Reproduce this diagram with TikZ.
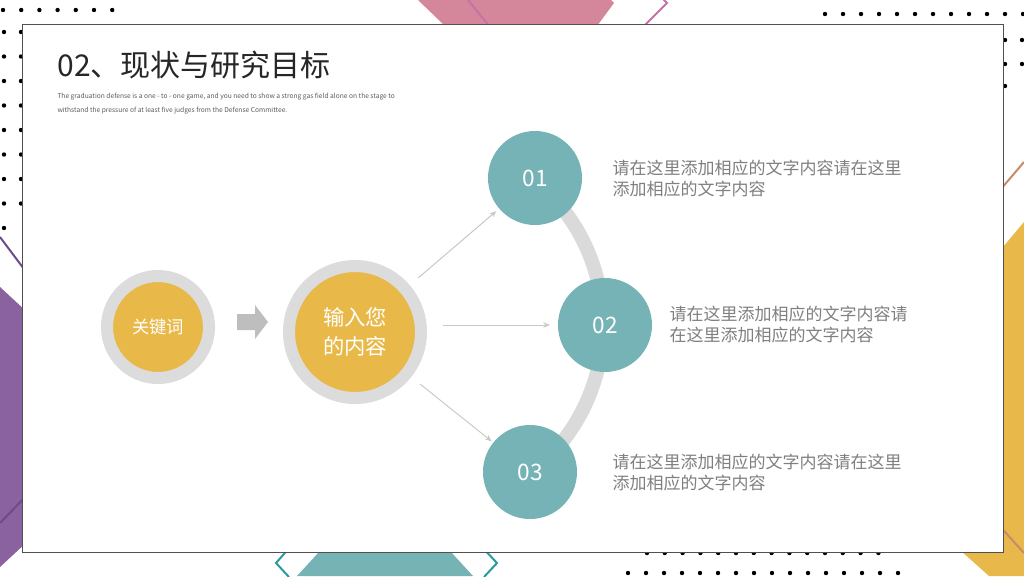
\documentclass[tikz,border=0pt]{standalone}
\usepackage{fontspec}
\setmainfont{Noto Sans CJK SC}
\usetikzlibrary{arrows.meta}
\definecolor{kwyellow}{RGB}{232,185,73}
\definecolor{ringgrey}{RGB}{220,220,220}
\definecolor{numteal}{RGB}{118,179,182}
\definecolor{arcgrey}{RGB}{218,218,218}
\definecolor{linkgrey}{RGB}{200,200,200}
\definecolor{arrowgrey}{RGB}{190,190,190}
\definecolor{descgrey}{RGB}{127,127,127}
\definecolor{subgrey}{RGB}{90,90,90}
\definecolor{titlegrey}{RGB}{38,38,38}
\definecolor{cardborder}{RGB}{80,80,80}
\definecolor{pinkfill}{RGB}{212,135,154}
\definecolor{pinkline}{RGB}{200,112,168}
\definecolor{purplefill}{RGB}{138,98,160}
\definecolor{purpleline}{RGB}{110,74,140}
\definecolor{sideyellow}{RGB}{232,185,74}
\definecolor{brownline}{RGB}{201,138,106}
\definecolor{tealfill}{RGB}{118,179,181}
\definecolor{tealline}{RGB}{42,154,156}

\tikzset{every picture/.style={line width=0.75pt}}

\begin{document}
\begin{tikzpicture}[x=0.75pt,y=0.75pt,yscale=-1,xscale=1,
	bgdot/.style={fill=black},
	ring/.style={circle, draw=ringgrey, fill=kwyellow, line width=9pt, inner sep=0pt, outer sep=0pt, text=white},
	numcirc/.style={circle, fill=numteal, minimum size=70.5pt, inner sep=0pt, outer sep=0pt, text=white, font=\fontsize{17}{18}\selectfont},
	link/.style={draw=linkgrey, line width=0.75pt, -{Stealth[length=5pt,width=4pt]}},
	desc/.style={anchor=west, align=left, text=descgrey, inner sep=0pt, font=\fontsize{12.75}{15.75}\selectfont}
	]
	\useasboundingbox (0,0) rectangle (1024,576);

	%Shape: top pink
	\fill [pinkfill] (418,0) -- (445,26) -- (597,26) -- (614,3) -- (611,0) -- cycle ;
	\draw [pinkline, line width=1.5pt] (468,0) -- (490,27) ;
	\draw [pinkline, line width=1.5pt] (663,-1) -- (667,3) -- (643,27) ;
	%Shape: left purple
	\fill [purplefill] (0,287) -- (40,324) -- (40,530) -- (0,567) -- cycle ;
	\draw [purpleline, line width=1.5pt] (0,237) -- (30,277) ;
	\draw [purpleline, line width=1.5pt] (0,523) -- (30,492) ;
	%Shape: right yellow
	\fill [sideyellow] (1024,222) -- (960,298) -- (960,550) -- (989,576) -- (1024,576) -- cycle ;
	\draw [brownline, line width=1.5pt] (995,196) -- (1024,162) ;
	\draw [brownline, line width=1.5pt] (995,521) -- (1024,553) ;
	%Shape: bottom teal
	\fill [tealfill] (330,540) -- (440,540) -- (473,576) -- (297,576) -- cycle ;
	\draw [tealline, line width=1.5pt] (291,546) -- (276,563) -- (289,577) ;
	\draw [tealline, line width=1.5pt] (481,546) -- (497,563) -- (484,577) ;

	%Dots
	\foreach \i in {0,...,6} \fill [bgdot] (3+18.2*\i,10) circle (2.2) ;
	\foreach \i in {0,...,8} \fill [bgdot] (4,32+24.5*\i) circle (2.2) ;
	\foreach \i in {0,...,7} \fill [bgdot] (21,32+24.5*\i) circle (2.2) ;
	\foreach \i in {0,...,11} \fill [bgdot] (825+18*\i,14) circle (2.2) ;
	\foreach \y in {40,64} {\fill [bgdot] (1005,\y) circle (2.2) ; \fill [bgdot] (1022,\y) circle (2.2) ;}
	\fill [bgdot] (1005,86) circle (2.2) ;
	\foreach \i in {0,...,13} \fill [bgdot] (647+17.8*\i,553) circle (2.2) ;
	\foreach \i in {0,...,15} \fill [bgdot] (628+18*\i,573) circle (2.2) ;

	%Shape: Card
	\draw [draw=cardborder, fill=white] (22,24) rectangle (1003,552) ;

	% Text Node
	\node [anchor=base west, inner sep=0pt, text=titlegrey, font=\fontsize{22.5}{27}\selectfont] (title) at (57,76) {02、现状与研究目标};
	% Text Node
	\node [anchor=north west, align=left, inner sep=0pt, text=subgrey, font=\fontsize{5}{10.5}\selectfont] (sub) at (57,93) {The graduation defense is a one - to - one game, and you need to show a strong gas field alone on the stage to\\withstand the pressure of at least five judges from the Defense Committee.};

	%Curve Lines: arc
	\draw [arcgrey, line width=10.5pt] (415,325) ++(-51:188) arc [start angle=-51, end angle=51, radius=188] ;

	%Shape: Circles
	\node [ring, minimum size=76.5pt, font=\fontsize{13}{15}\selectfont] (kw) at (158,327) {关键词};
	\node [ring, minimum size=99pt, align=center, font=\fontsize{16}{21.75}\selectfont] (big) at (355,332) {输入您\\的内容};
	\node [numcirc] (c1) at (535,178) {01};
	\node [numcirc] (c2) at (605,325) {02};
	\node [numcirc] (c3) at (530,472) {03};

	%Shape: block arrow
	\fill [arrowgrey] (237,314) -- (255,314) -- (255,305) -- (268,322) -- (255,339) -- (255,330) -- (237,330) -- cycle ;

	%Straight Lines
	\draw [link, shorten <=13pt, shorten >=3pt] (big) -- (c1) ;
	\draw [link, shorten <=16.5pt, shorten >=6pt] (big.east |- c2) -- (c2) ;
	\draw [link, shorten <=13pt, shorten >=1.5pt] (big) -- (c3) ;

	% Text Node
	\node [desc] (t1) at (612,178.5) {请在这里添加相应的文字内容请在这里\\添加相应的文字内容};
	% Text Node
	\node [desc] (t2) at (669,324.5) {请在这里添加相应的文字内容请\\在这里添加相应的文字内容};
	% Text Node
	\node [desc] (t3) at (612,472.5) {请在这里添加相应的文字内容请在这里\\添加相应的文字内容};
\end{tikzpicture}
\end{document}
